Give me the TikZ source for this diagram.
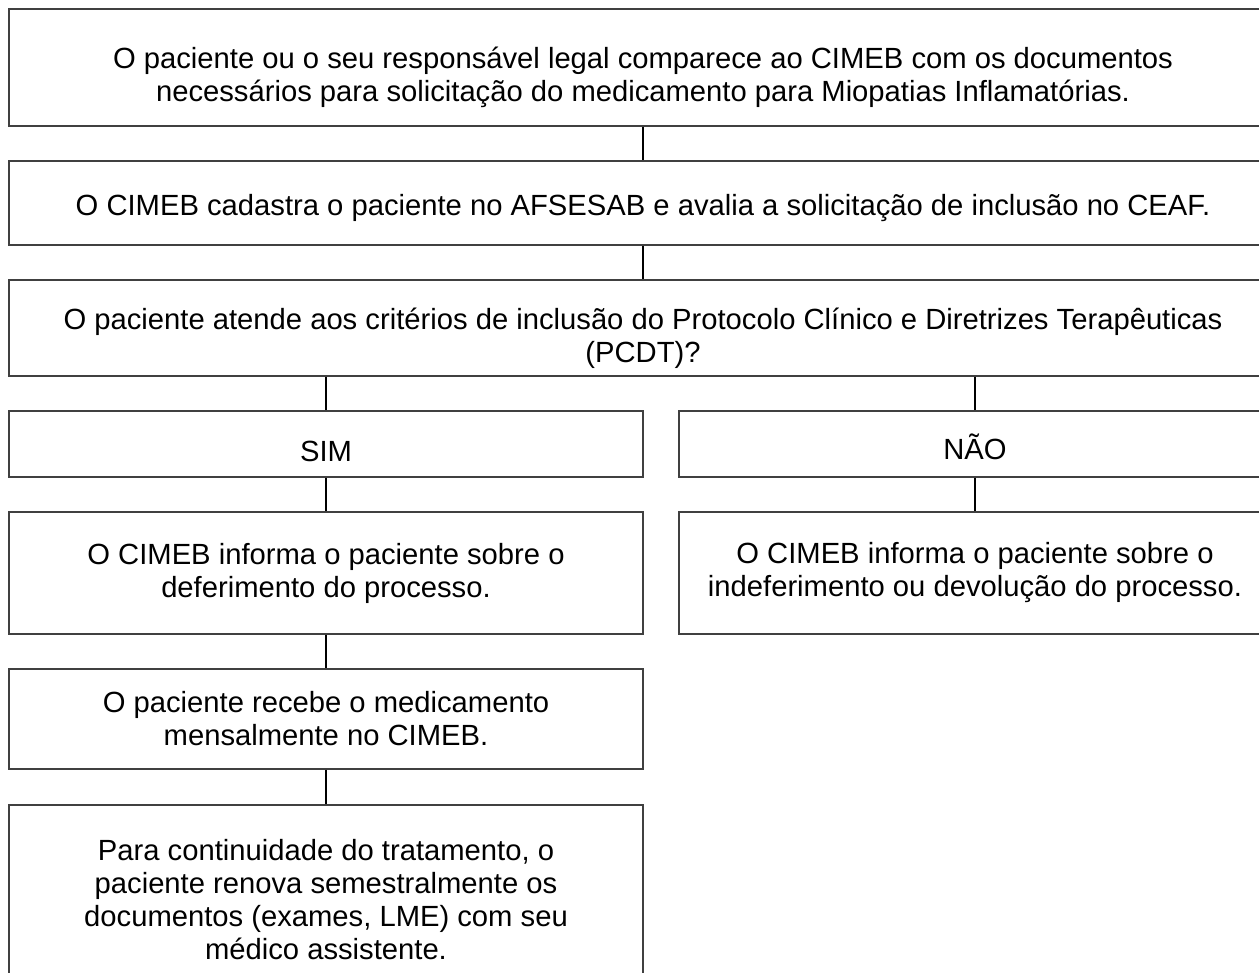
\documentclass[tikz,border=0pt]{standalone}
\usepackage{fontspec}
\setmainfont{Liberation Sans}
% Zeile nach unten schieben, ohne die Box zu aendern
\newcommand{\desce}[2]{\raisebox{-#1}[\height][\depth]{#2}}
\begin{document}
\begin{tikzpicture}[x=1pt, y=-1pt,
    caixa/.style={draw=black!75, line width=1.2pt, rectangle, inner sep=0pt,
        align=center, font=\fontsize{29.2}{33}\selectfont},
    larga/.style={caixa, minimum width=1268pt},
    coluna/.style={caixa, minimum width=634pt},
    liga/.style={black, line width=1.8pt}]
        % Rahmen
        \useasboundingbox (0,0) rectangle (1259,973);
        \clip (0,0) rectangle (1259,973);
        \def\xmeio{643}
        \def\xsim{326}
        \def\xnao{975}

        % Kaesten oben
        \node[larga, minimum height=117pt] (inicio) at (\xmeio, 67.5)
            {\desce{10pt}{O paciente ou o seu responsável legal comparece ao CIMEB com os documentos}\\
             \desce{10pt}{necessários para solicitação do medicamento para Miopatias Inflamatórias.}};
        \node[larga, minimum height=84pt] (cadastro) at (\xmeio, 203)
            {\desce{5pt}{O CIMEB cadastra o paciente no AFSESAB e avalia a solicitação de inclusão no CEAF.}};
        \node[larga, minimum height=96pt] (criterios) at (\xmeio, 328)
            {\desce{10pt}{O paciente atende aos critérios de inclusão do Protocolo Clínico e Diretrizes Terapêuticas}\\
             \desce{10pt}{(PCDT)?}};

        % Verzweigung
        \node[coluna, minimum height=66pt] (sim) at (\xsim, 444) {\desce{7pt}{SIM}};
        \node[caixa, minimum width=592pt, minimum height=66pt] (nao) at (\xnao, 444) {\desce{3pt}{NÃO}};

        % Spalte links
        \node[coluna, minimum height=122pt] (deferido) at (\xsim, 573)
            {O CIMEB informa o paciente sobre o\\ deferimento do processo.};
        \node[coluna, minimum height=100pt] (recebe) at (\xsim, 719)
            {O paciente recebe o medicamento\\ mensalmente no CIMEB.};
        \node[coluna, minimum height=190pt] (renova) at (\xsim, 900)
            {Para continuidade do tratamento, o\\ paciente renova semestralmente os\\
             documentos (exames, LME) com seu\\ médico assistente.};

        % Spalte rechts
        \node[caixa, minimum width=592pt, minimum height=122pt] (indeferido) at (\xnao, 573)
            {O CIMEB informa o paciente sobre o\\ indeferimento ou devolução do processo.};

        % Verbindungen
        \draw[liga] (inicio) -- (cadastro);
        \draw[liga] (cadastro) -- (criterios);
        \draw[liga] (criterios.south -| sim.north) -- (sim.north);
        \draw[liga] (criterios.south -| nao.north) -- (nao.north);
        \draw[liga] (sim) -- (deferido);
        \draw[liga] (deferido) -- (recebe);
        \draw[liga] (recebe) -- (renova);
        \draw[liga] (nao) -- (indeferido);
    \end{tikzpicture}
\end{document}
